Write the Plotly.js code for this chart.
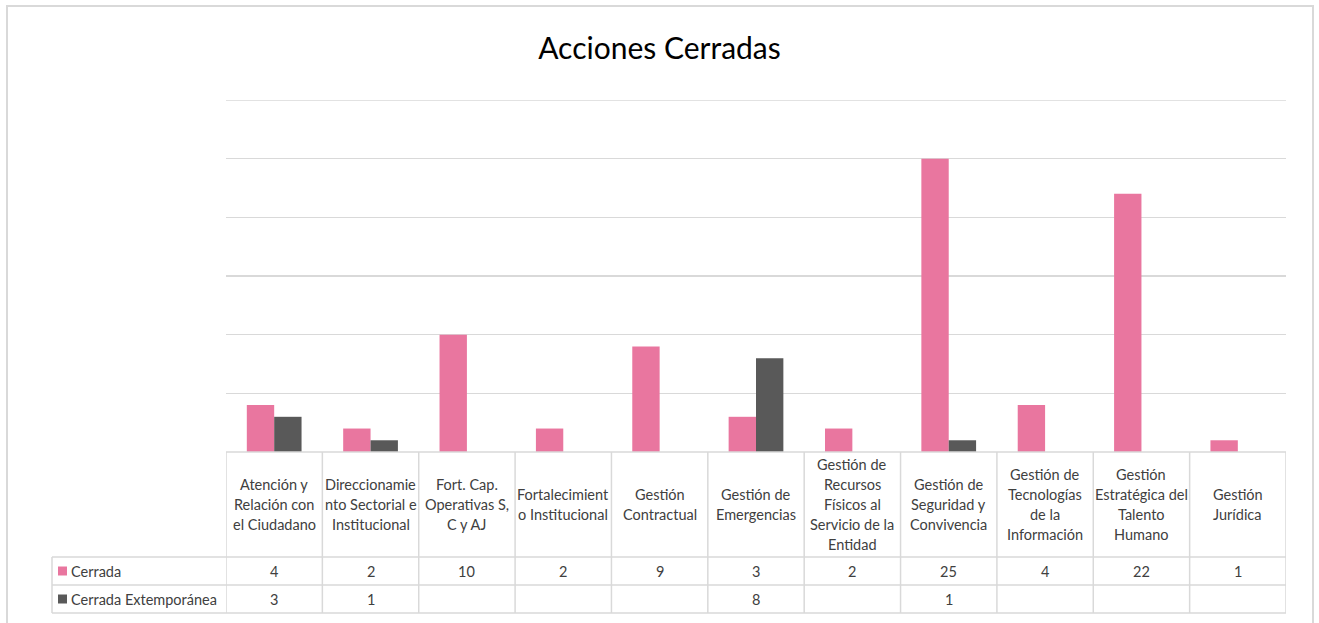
<!DOCTYPE html>
<html>
<head>
<meta charset="utf-8">
<script src="https://cdn.plot.ly/plotly-3.0.1.min.js"></script>
<style>html,body{margin:0;padding:0;background:#fff;}#chart{width:1319px;height:623px;}</style>
</head>
<body>
<div id="chart"></div>
<script>
const chartTitle = "Acciones Cerradas";
const categories = [
  "Atención y<br>Relación con<br>el Ciudadano",
  "Direccionamie<br>nto Sectorial e<br>Institucional",
  "Fort. Cap.<br>Operativas S,<br>C y AJ",
  "Fortalecimient<br>o Institucional",
  "Gestión<br>Contractual",
  "Gestión de<br>Emergencias",
  "Gestión de<br>Recursos<br>Físicos al<br>Servicio de la<br>Entidad",
  "Gestión de<br>Seguridad y<br>Convivencia",
  "Gestión de<br>Tecnologías<br>de la<br>Información",
  "Gestión<br>Estratégica del<br>Talento<br>Humano",
  "Gestión<br>Jurídica"
];
const seriesNames = ["Cerrada", "Cerrada Extemporánea"];
const cerrada = [4, 2, 10, 2, 9, 3, 2, 25, 4, 22, 1];
const extemporanea = [3, 1, null, null, null, 8, null, 1, null, null, null];
const seriesColors = ["#E9769F", "#595959"];
const yMax = 30;

const W = 1319, H = 623;
const L = 226, R = 1286, T = 100, B = 452;
const px = v => (v - L) / (R - L);
const py = v => (B - v) / (B - T);
const grid = "#d9d9d9";
const font = "Lato, 'Open Sans', sans-serif";
const textColor = "#404040";
const fs = 14.5;

const xs = categories.map((c, i) => i);

const traces = [
  {type: "bar", x: xs, y: cerrada, name: seriesNames[0], marker: {color: seriesColors[0]}},
  {type: "bar", x: xs, y: extemporanea, name: seriesNames[1], marker: {color: seriesColors[1]}}
];

const shapes = [];
const annotations = [];
const line = {color: grid, width: 1.5};

// outer chart border
shapes.push({type: "rect", xref: "paper", yref: "paper", x0: px(7), x1: px(1313), y0: py(6), y1: py(640), line: {color: grid, width: 2}, fillcolor: "rgba(0,0,0,0)", layer: "below"});

// top gridline at axis maximum
shapes.push({type: "line", xref: "paper", yref: "y", x0: 0, x1: 1, y0: yMax, y1: yMax, line: line, layer: "below"});

// table: vertical lines at category boundaries
for (let i = 0; i <= categories.length; i++) {
  shapes.push({type: "line", xref: "x", yref: "paper", x0: i - 0.5, x1: i - 0.5, y0: py(452), y1: py(613), line: line});
}
// left column line
shapes.push({type: "line", xref: "paper", yref: "paper", x0: px(52), x1: px(52), y0: py(557), y1: py(613), line: line});
// horizontal lines
[557, 585, 613].forEach(yv => {
  shapes.push({type: "line", xref: "paper", yref: "paper", x0: px(52), x1: px(1286), y0: py(yv), y1: py(yv), line: line});
});
shapes.push({type: "line", xref: "paper", yref: "paper", x0: 0, x1: 1, y0: 0, y1: 0, line: line});

// header labels, one annotation per line
categories.forEach((c, i) => {
  const parts = c.split("<br>");
  parts.forEach((p, k) => {
    const yc = 504.5 + (k - (parts.length - 1) / 2) * 19.8;
    annotations.push({xref: "x", yref: "paper", x: i, y: py(yc), text: p, showarrow: false, xanchor: "center", yanchor: "middle", font: {family: font, size: fs, color: textColor}});
  });
});

// value rows
const rows = [cerrada, extemporanea];
const rowY = [571, 599];
rows.forEach((vals, r) => {
  vals.forEach((v, i) => {
    if (v === null) return;
    annotations.push({xref: "x", yref: "paper", x: i, y: py(rowY[r]), text: String(v), showarrow: false, xanchor: "center", yanchor: "middle", font: {family: font, size: fs, color: textColor}});
  });
  shapes.push({type: "rect", xref: "paper", yref: "paper", x0: px(58), x1: px(67), y0: py(rowY[r] - 4.5), y1: py(rowY[r] + 4.5), fillcolor: seriesColors[r], line: {width: 0}});
  annotations.push({xref: "paper", yref: "paper", x: px(69), y: py(rowY[r]), text: seriesNames[r], showarrow: false, xanchor: "left", yanchor: "middle", font: {family: font, size: fs, color: textColor}});
});

const layout = {
  width: W, height: H,
  margin: {l: L, r: W - R, t: T, b: H - B, pad: 0},
  paper_bgcolor: "#fff", plot_bgcolor: "#fff",
  showlegend: false,
  title: {text: chartTitle, xref: "container", x: 0.5, xanchor: "center", y: 1 - 48 / H, yref: "container", yanchor: "middle", font: {family: font, size: 30, color: "#000"}},
  bargap: 0.432, bargroupgap: 0,
  barmode: "group",
  xaxis: {range: [-0.5, categories.length - 0.5], showticklabels: false, showgrid: false, zeroline: false, ticks: "", fixedrange: true},
  yaxis: {range: [0, yMax], dtick: 5, showticklabels: false, showgrid: true, gridcolor: grid, gridwidth: 1.5, zeroline: false, ticks: "", fixedrange: true},
  shapes: shapes,
  annotations: annotations,
  font: {family: font, color: textColor}
};

Plotly.newPlot("chart", traces, layout, {displayModeBar: false, staticPlot: true});
</script>
</body>
</html>
